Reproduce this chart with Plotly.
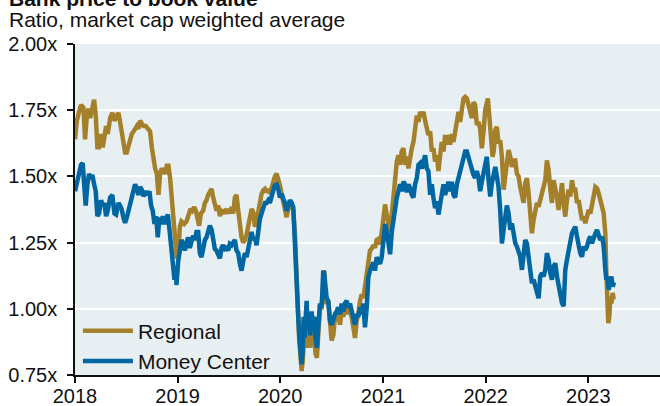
import pandas as pd
import plotly.graph_objects as go

# ---------------- data (decimal years, ratio values) ----------------
reg_years = [
    2018.000, 2018.017, 2018.039, 2018.059, 2018.082, 2018.098, 2018.114, 2018.130, 2018.147, 2018.163,
    2018.186, 2018.202, 2018.218, 2018.234, 2018.254, 2018.270, 2018.286, 2018.303, 2018.319, 2018.342,
    2018.364, 2018.384, 2018.400, 2018.423, 2018.439, 2018.455, 2018.472, 2018.488, 2018.504, 2018.520,
    2018.536, 2018.553, 2018.579, 2018.602, 2018.618, 2018.634, 2018.650, 2018.667, 2018.689, 2018.715,
    2018.731, 2018.748, 2018.764, 2018.780, 2018.797, 2018.813, 2018.829, 2018.845, 2018.861, 2018.878,
    2018.894, 2018.910, 2018.927, 2018.943, 2018.959, 2018.975, 2018.991,
    2019.008, 2019.021, 2019.037, 2019.063, 2019.086, 2019.102, 2019.125, 2019.141, 2019.161, 2019.177,
    2019.193, 2019.209, 2019.226, 2019.248, 2019.265, 2019.281, 2019.297, 2019.313, 2019.330, 2019.346,
    2019.362, 2019.378, 2019.395, 2019.411, 2019.427, 2019.443, 2019.460, 2019.476, 2019.492, 2019.508,
    2019.525, 2019.541, 2019.557, 2019.573, 2019.590, 2019.606, 2019.622, 2019.638, 2019.655, 2019.671,
    2019.687, 2019.703, 2019.720, 2019.736, 2019.752, 2019.768, 2019.785, 2019.801, 2019.817, 2019.833,
    2019.850, 2019.866, 2019.882,
    2019.898, 2019.914, 2019.931, 2019.947, 2019.963, 2019.979, 2019.996, 2020.012, 2020.028, 2020.044,
    2020.061, 2020.077, 2020.093, 2020.109, 2020.126, 2020.142, 2020.152, 2020.165, 2020.174, 2020.184,
    2020.197, 2020.207, 2020.217, 2020.226, 2020.236, 2020.246, 2020.256, 2020.265, 2020.278, 2020.291,
    2020.304, 2020.317, 2020.330, 2020.343, 2020.356, 2020.369, 2020.386, 2020.402, 2020.418, 2020.428,
    2020.438, 2020.451, 2020.467, 2020.483, 2020.499, 2020.516, 2020.532, 2020.548, 2020.564, 2020.581,
    2020.597, 2020.613, 2020.629, 2020.646, 2020.662, 2020.678, 2020.694, 2020.711, 2020.727, 2020.743,
    2020.759, 2020.776, 2020.792, 2020.808, 2020.824, 2020.841, 2020.857, 2020.873, 2020.889, 2020.906,
    2020.922, 2020.938, 2020.954,
    2020.971, 2020.987, 2021.004, 2021.020, 2021.036, 2021.052, 2021.069, 2021.085, 2021.101, 2021.117,
    2021.134, 2021.150, 2021.166, 2021.182, 2021.199, 2021.215, 2021.231, 2021.247, 2021.264, 2021.280,
    2021.296, 2021.312, 2021.329, 2021.345, 2021.361, 2021.377, 2021.394, 2021.410, 2021.426, 2021.442,
    2021.459, 2021.475, 2021.491, 2021.507, 2021.524, 2021.540, 2021.556, 2021.572, 2021.589, 2021.605,
    2021.621, 2021.637, 2021.654, 2021.670, 2021.686, 2021.702, 2021.719, 2021.735, 2021.751, 2021.767,
    2021.784, 2021.800, 2021.816, 2021.832, 2021.849, 2021.865, 2021.881, 2021.897, 2021.914, 2021.930,
    2021.946, 2021.962, 2021.979,
    2021.995, 2022.021, 2022.041, 2022.054, 2022.067, 2022.080, 2022.093, 2022.109, 2022.125, 2022.141,
    2022.158, 2022.174, 2022.190, 2022.206, 2022.223, 2022.239, 2022.255, 2022.271, 2022.288, 2022.304,
    2022.320, 2022.336, 2022.353, 2022.369, 2022.385, 2022.401, 2022.418, 2022.434, 2022.450, 2022.466,
    2022.483, 2022.499, 2022.515, 2022.531, 2022.548, 2022.564, 2022.580, 2022.596, 2022.613, 2022.629,
    2022.645, 2022.661, 2022.678, 2022.694, 2022.710, 2022.726, 2022.743, 2022.759, 2022.775, 2022.791,
    2022.808, 2022.824, 2022.840, 2022.856, 2022.873, 2022.889, 2022.905, 2022.921, 2022.938, 2022.954,
    2022.970, 2022.986, 2023.003, 2023.019, 2023.035, 2023.051, 2023.068, 2023.084, 2023.100, 2023.116,
    2023.133, 2023.149, 2023.165, 2023.175, 2023.185, 2023.194, 2023.204, 2023.214, 2023.224, 2023.237,
    2023.246,
]
reg_values = [
    1.64, 1.706, 1.744, 1.77, 1.76, 1.64, 1.72, 1.756, 1.72, 1.75,
    1.79, 1.73, 1.61, 1.61, 1.66, 1.61, 1.64, 1.69, 1.66, 1.72,
    1.74, 1.71, 1.725, 1.74, 1.706, 1.66, 1.63, 1.59, 1.59, 1.61,
    1.64, 1.66, 1.675, 1.69, 1.68, 1.71, 1.70, 1.69, 1.69, 1.68,
    1.67, 1.61, 1.56, 1.53, 1.51, 1.43, 1.51, 1.53, 1.52, 1.51,
    1.54, 1.54, 1.49, 1.42, 1.34, 1.27, 1.19,
    1.22, 1.31, 1.33, 1.32, 1.33, 1.346, 1.377, 1.37, 1.384, 1.37,
    1.34, 1.314, 1.36, 1.37, 1.40, 1.41, 1.43, 1.44, 1.453, 1.42,
    1.39, 1.37, 1.39, 1.35, 1.37, 1.365, 1.37, 1.36, 1.377, 1.36,
    1.384, 1.36, 1.42, 1.43, 1.37, 1.31, 1.27, 1.25, 1.26, 1.28,
    1.31, 1.346, 1.377, 1.365, 1.31, 1.33, 1.37, 1.40, 1.434, 1.447,
    1.453, 1.44, 1.453,
    1.434, 1.46, 1.485, 1.50, 1.51, 1.49, 1.466, 1.434, 1.40, 1.384,
    1.346, 1.377, 1.40, 1.40, 1.37, 1.28, 1.16, 1.08, 0.98, 0.88,
    0.815, 0.765, 0.80, 0.853, 0.916, 0.89, 0.97, 0.853, 0.916, 0.853,
    0.97, 0.90, 0.89, 0.83, 0.815, 0.90, 1.005, 1.005, 1.13, 1.144,
    1.03, 1.02, 1.03, 0.93, 0.88, 0.90, 0.97, 0.955, 0.98, 0.94,
    0.99, 0.97, 1.005, 1.02, 0.98, 0.99, 0.97, 0.93, 0.89, 0.955,
    0.98, 1.03, 1.055, 1.04, 1.08, 1.144, 1.18, 1.22, 1.226, 1.24,
    1.23, 1.26, 1.264,
    1.244, 1.29, 1.37, 1.394, 1.356, 1.32, 1.29, 1.356, 1.42, 1.506,
    1.556, 1.58, 1.544, 1.594, 1.606, 1.544, 1.575, 1.53, 1.575, 1.606,
    1.63, 1.70, 1.73, 1.706, 1.744, 1.725, 1.744, 1.71, 1.68, 1.656,
    1.67, 1.594, 1.606, 1.556, 1.58, 1.52, 1.58, 1.63, 1.594, 1.656,
    1.62, 1.656, 1.62, 1.66, 1.63, 1.68, 1.706, 1.744, 1.706, 1.75,
    1.794, 1.80, 1.794, 1.77, 1.744, 1.72, 1.78, 1.77, 1.694, 1.706,
    1.68, 1.606, 1.67,
    1.75, 1.794, 1.71, 1.637, 1.574, 1.60, 1.675, 1.687, 1.624, 1.637,
    1.574, 1.45, 1.50, 1.574, 1.60, 1.574, 1.536, 1.56, 1.56, 1.51,
    1.50, 1.46, 1.42, 1.40, 1.474, 1.493, 1.436, 1.323, 1.285, 1.335,
    1.36, 1.40, 1.386, 1.41, 1.45, 1.46, 1.486, 1.56, 1.524, 1.45,
    1.40, 1.486, 1.46, 1.42, 1.373, 1.436, 1.474, 1.40, 1.348, 1.41,
    1.45, 1.424, 1.486, 1.45, 1.45, 1.40, 1.41, 1.373, 1.335, 1.348,
    1.323, 1.348, 1.373, 1.36, 1.386, 1.424, 1.46, 1.455, 1.436, 1.40,
    1.386, 1.36, 1.285, 1.135, 0.996, 0.946, 0.97, 1.047, 1.02, 1.06,
    1.035,
]

mc_years = [
    2018.000, 2018.017, 2018.039, 2018.059, 2018.075, 2018.091, 2018.104, 2018.121, 2018.137, 2018.153,
    2018.169, 2018.186, 2018.202, 2018.218, 2018.234, 2018.254, 2018.270, 2018.286, 2018.303, 2018.319,
    2018.342, 2018.364, 2018.384, 2018.400, 2018.423, 2018.439, 2018.455, 2018.472, 2018.488, 2018.504,
    2018.520, 2018.536, 2018.553, 2018.569, 2018.585, 2018.602, 2018.618, 2018.634, 2018.650, 2018.667,
    2018.689, 2018.709, 2018.725, 2018.741, 2018.757, 2018.774, 2018.790, 2018.806, 2018.822, 2018.839,
    2018.855, 2018.871, 2018.888, 2018.904, 2018.920, 2018.937, 2018.953, 2018.969, 2018.985,
    2018.988, 2019.005, 2019.021, 2019.037, 2019.053, 2019.070, 2019.086, 2019.102, 2019.118, 2019.135,
    2019.151, 2019.167, 2019.183, 2019.200, 2019.216, 2019.232, 2019.248, 2019.265, 2019.281, 2019.297,
    2019.313, 2019.330, 2019.346, 2019.362, 2019.378, 2019.395, 2019.411, 2019.427, 2019.443, 2019.460,
    2019.476, 2019.492, 2019.508, 2019.525, 2019.541, 2019.557, 2019.573, 2019.590, 2019.606, 2019.622,
    2019.638, 2019.655, 2019.671, 2019.687, 2019.703, 2019.720, 2019.736, 2019.752, 2019.768, 2019.785,
    2019.801, 2019.817, 2019.833, 2019.850, 2019.866, 2019.882,
    2019.898, 2019.914, 2019.931, 2019.947, 2019.963, 2019.979, 2019.996, 2020.012, 2020.028, 2020.044,
    2020.061, 2020.077, 2020.093, 2020.109, 2020.126, 2020.142, 2020.152, 2020.165, 2020.174, 2020.184,
    2020.197, 2020.207, 2020.217, 2020.226, 2020.236, 2020.246, 2020.256, 2020.265, 2020.278, 2020.291,
    2020.304, 2020.317, 2020.330, 2020.343, 2020.356, 2020.369, 2020.386, 2020.402, 2020.418, 2020.428,
    2020.438, 2020.451, 2020.467, 2020.483, 2020.499, 2020.516, 2020.532, 2020.548, 2020.564, 2020.581,
    2020.597, 2020.613, 2020.629, 2020.646, 2020.662, 2020.678, 2020.694, 2020.711, 2020.727, 2020.743,
    2020.759, 2020.776, 2020.792, 2020.808, 2020.824, 2020.841, 2020.857, 2020.873, 2020.889, 2020.906,
    2020.922, 2020.938, 2020.954,
    2020.971, 2020.987, 2021.004, 2021.020, 2021.036, 2021.052, 2021.069, 2021.085, 2021.101, 2021.117,
    2021.134, 2021.150, 2021.166, 2021.182, 2021.199, 2021.215, 2021.231, 2021.247, 2021.264, 2021.280,
    2021.296, 2021.312, 2021.329, 2021.345, 2021.361, 2021.377, 2021.394, 2021.410, 2021.426, 2021.442,
    2021.459, 2021.475, 2021.491, 2021.507, 2021.524, 2021.540, 2021.556, 2021.572, 2021.589, 2021.605,
    2021.621, 2021.637, 2021.654, 2021.670, 2021.686, 2021.702, 2021.719, 2021.735, 2021.751, 2021.767,
    2021.784, 2021.800, 2021.816, 2021.832, 2021.849, 2021.865, 2021.881, 2021.897, 2021.914, 2021.930,
    2021.946, 2021.962, 2021.979,
    2021.995, 2022.011, 2022.028, 2022.044, 2022.060, 2022.076, 2022.093, 2022.109, 2022.125, 2022.141,
    2022.158, 2022.174, 2022.190, 2022.206, 2022.223, 2022.239, 2022.255, 2022.271, 2022.288, 2022.304,
    2022.320, 2022.336, 2022.353, 2022.369, 2022.385, 2022.401, 2022.418, 2022.434, 2022.450, 2022.466,
    2022.483, 2022.499, 2022.515, 2022.531, 2022.548, 2022.564, 2022.580, 2022.596, 2022.613, 2022.629,
    2022.645, 2022.661, 2022.678, 2022.694, 2022.710, 2022.726, 2022.743, 2022.759, 2022.775, 2022.791,
    2022.808, 2022.824, 2022.840, 2022.856, 2022.873, 2022.889, 2022.905, 2022.921, 2022.938, 2022.954,
    2022.970, 2022.986, 2023.003, 2023.019, 2023.035, 2023.051, 2023.068, 2023.084, 2023.100, 2023.116,
    2023.133, 2023.149, 2023.165, 2023.175, 2023.185, 2023.198, 2023.211, 2023.224, 2023.237, 2023.250,
]
mc_values = [
    1.444, 1.47, 1.52, 1.544, 1.55, 1.48, 1.39, 1.47, 1.51, 1.49,
    1.506, 1.47, 1.444, 1.35, 1.36, 1.41, 1.39, 1.40, 1.35, 1.37,
    1.42, 1.43, 1.36, 1.356, 1.40, 1.39, 1.375, 1.344, 1.325, 1.344,
    1.37, 1.39, 1.43, 1.456, 1.47, 1.456, 1.43, 1.46, 1.45, 1.425,
    1.444, 1.43, 1.444, 1.39, 1.37, 1.32, 1.35, 1.27, 1.344, 1.32,
    1.35, 1.32, 1.344, 1.356, 1.30, 1.23, 1.18, 1.11, 1.13,
    1.09, 1.18, 1.23, 1.26, 1.245, 1.22, 1.25, 1.27, 1.23, 1.25,
    1.276, 1.26, 1.29, 1.29, 1.21, 1.195, 1.23, 1.26, 1.27, 1.29,
    1.314, 1.30, 1.27, 1.226, 1.22, 1.20, 1.19, 1.23, 1.24, 1.226,
    1.23, 1.22, 1.245, 1.24, 1.25, 1.26, 1.22, 1.21, 1.17, 1.144,
    1.18, 1.21, 1.195, 1.23, 1.264, 1.29, 1.26, 1.27, 1.24, 1.31,
    1.34, 1.36, 1.377, 1.40, 1.40, 1.41,
    1.40, 1.434, 1.447, 1.466, 1.47, 1.453, 1.42, 1.434, 1.42, 1.40,
    1.37, 1.40, 1.41, 1.40, 1.384, 1.245, 1.18, 1.08, 0.97, 0.90,
    0.853, 0.79, 0.84, 0.97, 0.89, 0.98, 1.03, 0.93, 0.955, 0.90,
    0.99, 0.94, 0.97, 0.89, 0.853, 0.93, 1.02, 1.005, 1.144, 1.13,
    1.055, 1.04, 1.03, 0.955, 0.94, 0.97, 0.98, 0.99, 1.005, 0.98,
    1.02, 0.99, 1.02, 1.03, 1.005, 1.02, 0.99, 0.97, 0.94, 0.98,
    0.97, 1.005, 0.98, 1.02, 0.93, 1.005, 1.12, 1.144, 1.156, 1.175,
    1.144, 1.195, 1.18,
    1.17, 1.194, 1.256, 1.32, 1.29, 1.23, 1.206, 1.29, 1.344, 1.38,
    1.42, 1.444, 1.47, 1.444, 1.48, 1.47, 1.44, 1.47, 1.456, 1.43,
    1.42, 1.47, 1.494, 1.544, 1.55, 1.53, 1.556, 1.58, 1.53, 1.52,
    1.43, 1.47, 1.42, 1.38, 1.406, 1.356, 1.394, 1.444, 1.47, 1.43,
    1.456, 1.48, 1.444, 1.48, 1.43, 1.42, 1.47, 1.494, 1.52, 1.53,
    1.57, 1.594, 1.594, 1.57, 1.544, 1.53, 1.506, 1.494, 1.52, 1.494,
    1.444, 1.48, 1.52,
    1.536, 1.574, 1.486, 1.424, 1.474, 1.50, 1.536, 1.50, 1.46, 1.373,
    1.247, 1.298, 1.36, 1.39, 1.36, 1.298, 1.323, 1.285, 1.247, 1.235,
    1.21, 1.197, 1.147, 1.197, 1.26, 1.247, 1.197, 1.122, 1.097, 1.11,
    1.084, 1.072, 1.04, 1.122, 1.135, 1.122, 1.147, 1.21, 1.185, 1.135,
    1.11, 1.16, 1.172, 1.122, 1.084, 1.06, 1.022, 1.01, 1.147, 1.185,
    1.222, 1.247, 1.285, 1.298, 1.31, 1.273, 1.235, 1.21, 1.197, 1.235,
    1.222, 1.235, 1.26, 1.273, 1.247, 1.273, 1.285, 1.298, 1.273, 1.26,
    1.273, 1.235, 1.147, 1.11, 1.122, 1.072, 1.097, 1.122, 1.084, 1.10,
]

assert len(reg_years) == len(reg_values), (len(reg_years), len(reg_values))
assert len(mc_years) == len(mc_values), (len(mc_years), len(mc_values))

series_names = ["Regional", "Money Center"]
series_colors = ["#A5802A", "#0067A2"]

y_ticks = [0.75, 1.00, 1.25, 1.50, 1.75, 2.00]
x_tick_labels = ["2018", "2019", "2020", "2021", "2022", "2023"]

title_text = "Bank price to book value"
subtitle_text = "Ratio, market cap weighted average"


def to_dates(years):
    base = pd.Timestamp("2018-01-01")
    return [base + pd.Timedelta(days=(y - 2018.0) * 365.25) for y in years]


FONT = "Arial, Liberation Sans, Helvetica, sans-serif"

fig = go.Figure()
fig.add_trace(go.Scatter(
    x=to_dates(reg_years), y=reg_values, mode="lines", name=series_names[0],
    line=dict(color=series_colors[0], width=4.5),
))
fig.add_trace(go.Scatter(
    x=to_dates(mc_years), y=mc_values, mode="lines", name=series_names[1],
    line=dict(color=series_colors[1], width=4.5),
))

fig.update_layout(
    width=660, height=406,
    margin=dict(l=75, r=0, t=44, b=31, pad=0, autoexpand=False),
    paper_bgcolor="white",
    plot_bgcolor="#E8EFF2",
    font=dict(family=FONT, color="#111111", size=20),
    showlegend=True,
    legend=dict(
        x=0.005, y=-0.02, xanchor="left", yanchor="bottom",
        bgcolor="rgba(0,0,0,0)", borderwidth=0,
        font=dict(size=21, family=FONT, color="#111111"),
        itemwidth=50, tracegroupgap=0,
    ),
    annotations=[
        dict(text="<b>" + title_text + "</b>", xref="paper", yref="paper",
             x=0, y=1, xanchor="left", yanchor="middle", xshift=-68, yshift=46,
             showarrow=False, font=dict(size=21, family=FONT, color="#111111")),
        dict(text=subtitle_text, xref="paper", yref="paper",
             x=0, y=1, xanchor="left", yanchor="middle", xshift=-68, yshift=25,
             showarrow=False, font=dict(size=21, family=FONT, color="#111111")),
    ],
)

fig.update_xaxes(
    type="date",
    range=["2018-01-01", "2023-09-13"],
    tickvals=[pd.Timestamp(f"{y}-01-01") for y in x_tick_labels],
    ticktext=x_tick_labels,
    ticks="outside", ticklen=6, tickwidth=1.5, tickcolor="#111111",
    showline=True, linecolor="#111111", linewidth=1.5,
    showgrid=False, zeroline=False, automargin=False,
    ticklabelstandoff=-4,
    tickfont=dict(size=20, family=FONT, color="#111111"),
)
fig.update_yaxes(
    range=[0.75, 2.00],
    tickvals=y_ticks,
    ticktext=[f"{v:.2f}x" for v in y_ticks],
    ticks="outside", ticklen=6, tickwidth=1.5, tickcolor="#111111",
    showline=True, linecolor="#111111", linewidth=1.5,
    showgrid=True, gridcolor="white", gridwidth=2, zeroline=False, automargin=False,
    ticklabelstandoff=6,
    tickfont=dict(size=20, family=FONT, color="#111111"),
)

fig.write_html(
    "out.html",
    config={"displayModeBar": False},
    post_script="document.body.style.margin='0';document.body.style.overflow='hidden';",
)
